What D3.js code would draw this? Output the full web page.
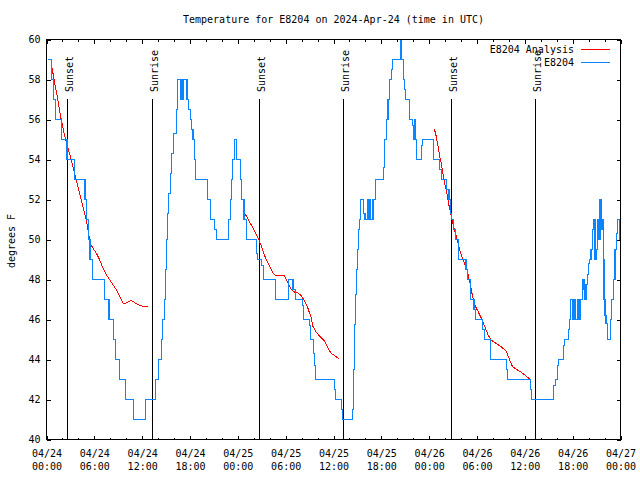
<!DOCTYPE html>
<html><head><meta charset="utf-8">
<script src="https://cdn.jsdelivr.net/npm/d3@7"></script>
<style>
body{margin:0;background:#fff}
svg text{font-family:"DejaVu Sans Mono","Liberation Mono",monospace;font-size:10px;fill:#000}
</style>
</head><body>
<svg id="chart" width="640" height="480"></svg>
<script>
// ---------- data ----------
const chartTitle = "Temperature for E8204 on 2024-Apr-24 (time in UTC)";
const yAxisLabel = "degrees F";
const startTime = Date.UTC(2024, 3, 24, 0, 0);
const endTime = Date.UTC(2024, 3, 27, 0, 0);
const yTickValues = [40, 42, 44, 46, 48, 50, 52, 54, 56, 58, 60];
const seriesNames = ["E8204 Analysis", "E8204"];
const seriesColors = ["#ff0000", "#0a84ff"];

// sun events: hours after 04/24 00:00 UTC
const sunHours = [2.62, 13.27, 26.69, 37.22, 50.78, 61.30];
const sunLabels = ["Sunset", "Sunrise", "Sunset", "Sunrise", "Sunset", "Sunrise"];

// observed temperature (hours after start, degrees F), held until next reading
const observed = [
[0.16,59],[0.59,58],[0.92,57],[1.09,56],[1.88,55],[2.57,54],[3.51,53],[4.83,52],[5.02,51],[5.31,50],
[5.46,49],[5.73,48],[7.28,47],[7.84,46],[8.4,45],[8.66,44],[9.16,43],[9.91,42],[10.95,41],[12.42,42],
[13.67,43],[14.05,44],[14.43,45],[14.59,46],[14.76,47],[14.93,48.5],[15.05,50],[15.22,51.3],[15.34,52.3],
[15.52,53.3],[15.72,54.3],[15.97,55.3],[16.27,56.5],[16.39,57.5],[16.47,58],[16.87,57],[17.12,58],[17.62,57],
[17.81,56.5],[18.03,56],[18.19,55.5],[18.38,55],[18.53,54],[18.65,53],[20.16,52],[20.57,51],[21.07,50.5],
[21.29,50],[22.87,51],[23.04,52],[23.24,53],[23.37,54],[23.62,55],[23.87,54],[24.30,53],[24.42,52],[24.77,51],
[25.05,50],[26.34,49.3],[26.5,49],[26.93,48.7],[27.22,48],[28.73,47],[30.39,48],[30.92,47.5],[31.2,47],
[32.07,46.7],[32.24,46],[32.99,45.7],[33.12,45],[33.49,44.3],[33.62,43.7],[33.74,43],[36.16,42.5],[36.25,42],
[37.0,41.5],[37.17,41],[38.35,41.5],[38.51,43.5],[38.64,45.75],[38.76,47.25],[38.92,48.5],[39.05,49.5],
[39.17,50.5],[39.26,51],[39.39,52],[39.76,51.3],[39.95,51],[40.33,52],[40.58,51],[40.96,52],[41.27,53],
[42.27,53.6],[42.44,55],[42.65,56],[42.84,57],[43.03,58],[43.24,58.5],[43.44,59],[44.37,60],[44.57,59],
[44.78,58],[44.91,57.5],[45.03,57],[45.51,56],[45.89,55.7],[46.02,55],[46.14,56],[46.27,55],[46.45,54],
[47.0,54.7],[47.13,55],[48.58,54],[49.3,53.5],[49.51,53],[50.18,52.5],[50.49,52],[50.64,51.3],[50.84,51],
[51.05,50.5],[51.3,50],[51.72,49],[52.62,48.5],[52.85,48],[53.15,47],[53.62,46.5],[53.81,46],[54.73,45.5],
[54.94,45],[55.7,44],[57.66,43.5],[57.79,43],[60.67,42.5],[60.8,42],[63.64,42.7],[63.85,43],[64.14,43.7],
[64.26,44],[64.85,44.7],[65.02,45],[65.44,45.5],[65.6,46],[65.76,47],[65.96,46],[66.17,47],[66.38,46],
[66.58,47],[66.79,46],[67.0,47],[67.25,48],[67.42,47.5],[67.55,47],[67.67,47.75],[67.83,48.25],[67.96,48.8],
[68.09,49],[68.3,49.5],[68.46,50.5],[68.59,51],[68.8,49],[69.01,49.5],[69.11,51],[69.21,50],[69.43,52],
[69.55,50.5],[69.68,51],[69.84,49],[69.93,47],[70.06,46.2],[70.18,45.8],[70.35,45],[70.69,46],[70.9,47],
[71.1,48],[71.31,49.5],[71.52,50.3],[71.65,51],[71.88,50],[72.0,50]
];

// analysis (hours after start, degrees F), three overnight runs
const analysisNight1 = [
[0.59,58.8],[1.04,57.8],[1.42,57.0],[1.84,56.0],[2.38,55.0],[3.10,54.0],[3.73,53.0],[4.35,52.0],[4.98,51.0],
[5.31,50.25],[5.48,49.8],[5.81,49.58],[6.23,49.33],[6.65,49.0],[7.06,48.58],[7.49,48.25],[7.90,48.0],
[8.32,47.75],[8.74,47.5],[9.16,47.17],[9.66,46.78],[10.0,46.83],[10.62,46.95],[11.25,46.8],[11.67,46.7],
[12.08,46.67],[12.71,46.63]
];
const analysisNight2 = [
[24.71,51.43],[25.4,50.93],[26.0,50.5],[26.64,50.0],[26.94,49.67],[27.22,49.33],[27.56,49.0],[27.97,48.67],
[28.39,48.33],[28.73,48.2],[29.85,48.2],[30.07,48.0],[30.39,47.75],[30.69,47.5],[31.11,47.37],[31.52,47.33],
[31.95,47.2],[32.36,46.92],[32.78,46.58],[33.2,46.08],[33.41,45.67],[33.74,45.42],[34.24,45.17],[34.87,44.92],
[35.29,44.58],[35.71,44.3],[36.13,44.2],[36.67,44.03]
];
const analysisNight3 = [
[48.67,55.5],[48.88,55.17],[49.09,54.7],[49.3,54.2],[49.51,53.83],[49.71,53.33],[49.92,52.83],[50.14,52.5],
[50.34,52.0],[50.55,51.58],[50.77,51.17],[51.05,50.67],[51.47,50.08],[51.81,49.5],[52.23,49.0],[52.73,48.5],
[53.07,47.92],[53.40,47.25],[53.69,46.75],[54.11,46.42],[54.53,46.08],[54.95,45.67],[55.36,45.25],[55.79,44.97],
[56.42,44.8],[57.04,44.63],[57.67,44.42],[58.08,44.0],[58.42,43.67],[58.83,43.53],[59.33,43.42],[59.75,43.3],
[60.17,43.17],[60.80,42.97]
];

// ---------- drawing ----------
const svg = d3.select("#chart");
const L = 46.5, R = 620.5, T = 39.5, B = 439.5;
const toDate = h => new Date(startTime + h * 3600e3);
const x = d3.scaleUtc().domain([new Date(startTime), new Date(endTime)]).range([L, R]);
const y = d3.scaleLinear().domain([40, 60]).range([B, T]);

// title
svg.append("text").attr("x", (L + R) / 2).attr("y", 22.6)
  .attr("text-anchor", "middle").text(chartTitle);

// y label
svg.append("text").attr("transform", "translate(11,241) rotate(-90)")
  .attr("dy", "0.35em").attr("text-anchor", "middle").text(yAxisLabel);

// axes
const fmt = d3.utcFormat("%m/%d|%H:%M");
const gxB = svg.append("g").attr("transform", `translate(0,${B})`)
  .call(d3.axisBottom(x).ticks(d3.utcHour.every(6)).tickSizeInner(-4).tickSizeOuter(0).tickPadding(10).tickFormat(fmt));
gxB.selectAll(".tick text").each(function(d){
  const parts = fmt(d).split("|");
  const t = d3.select(this); t.text(null).attr("dy", null).attr("y", 17.1);
  t.append("tspan").attr("x", 0).text(parts[0]);
  t.append("tspan").attr("x", 0).attr("dy", 13).text(parts[1]);
});
svg.append("g").attr("transform", `translate(0,${B})`)
  .call(d3.axisBottom(x).ticks(d3.utcHour.every(2)).tickSizeInner(-2).tickSizeOuter(0).tickFormat(""));
svg.append("g").attr("transform", `translate(0,${T})`)
  .call(d3.axisTop(x).ticks(d3.utcHour.every(6)).tickSizeInner(-4).tickSizeOuter(0).tickFormat(""));
svg.append("g").attr("transform", `translate(0,${T})`)
  .call(d3.axisTop(x).ticks(d3.utcHour.every(2)).tickSizeInner(-2).tickSizeOuter(0).tickFormat(""));
svg.append("g").attr("transform", `translate(${L},0)`)
  .call(d3.axisLeft(y).tickValues(yTickValues).tickSizeInner(-4).tickSizeOuter(0).tickPadding(6).tickFormat(d3.format("d")));
svg.append("g").attr("transform", `translate(${R},0)`)
  .call(d3.axisRight(y).tickValues(yTickValues).tickSizeInner(-4).tickSizeOuter(0).tickFormat(""));
svg.selectAll(".domain").remove();
svg.selectAll(".tick line").attr("stroke", "#000").attr("shape-rendering", "crispEdges");
svg.selectAll("g text").attr("font-family", null).attr("font-size", null).attr("fill", "#000");

// sun event lines and labels
sunHours.forEach((h, i) => {
  const xp = Math.round(x(toDate(h))) + 0.5;
  svg.append("line").attr("x1", xp).attr("x2", xp).attr("y1", 99).attr("y2", B)
    .attr("stroke", "#000").attr("shape-rendering", "crispEdges");
  svg.append("text").attr("transform", `translate(${xp + 5},92) rotate(-90)`)
    .attr("text-anchor", "start").text(sunLabels[i]);
});

// analysis lines
const lineA = d3.line().x(d => x(toDate(d[0]))).y(d => y(d[1]));
[analysisNight1, analysisNight2, analysisNight3].forEach(arr => {
  svg.append("path").datum(arr).attr("d", lineA).attr("fill", "none")
    .attr("stroke", seriesColors[0]).attr("stroke-width", 1).attr("shape-rendering", "crispEdges");
});

// observed line
const lineO = d3.line().x(d => x(toDate(d[0]))).y(d => y(d[1])).curve(d3.curveStepAfter);
svg.append("path").datum(observed).attr("d", lineO).attr("fill", "none")
  .attr("stroke", seriesColors[1]).attr("stroke-width", 1.1).attr("shape-rendering", "crispEdges");

// frame
svg.append("rect").attr("x", L).attr("y", T).attr("width", R - L).attr("height", B - T)
  .attr("fill", "none").attr("stroke", "#000").attr("shape-rendering", "crispEdges");

// legend
seriesNames.forEach((name, i) => {
  const ly = 49.5 + i * 13;
  svg.append("text").attr("x", 574).attr("y", ly + 3.6).attr("text-anchor", "end").text(name);
  svg.append("line").attr("x1", 581).attr("x2", 610).attr("y1", ly).attr("y2", ly)
    .attr("stroke", seriesColors[i]).attr("stroke-width", 1).attr("shape-rendering", "crispEdges");
});
</script>
</body></html>
